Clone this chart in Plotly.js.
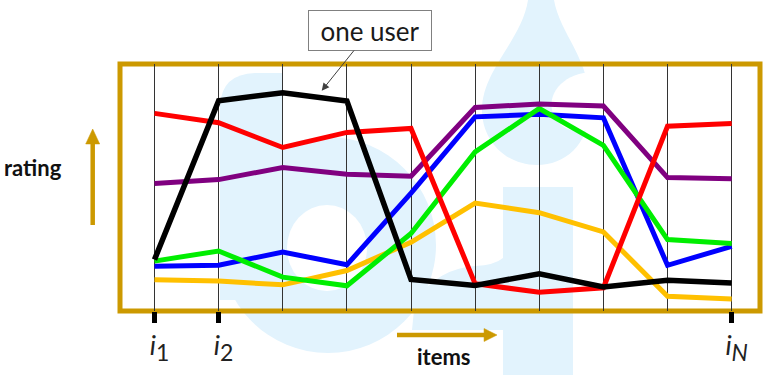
<!DOCTYPE html>
<html><head><meta charset="utf-8">
<script src="https://cdn.plot.ly/plotly-3.0.1.min.js"></script>
<style>html,body{margin:0;padding:0;background:#fff;} #chart{width:778px;height:375px;}</style>
</head><body><div id="chart"></div>
<script>
// ---- data ----
const items = [1, 2, 3, 4, 5, 6, 7, 8, 9, 10];
const ratingsYellow = [1.27, 1.21, 1.06, 1.64, 2.78, 4.37, 3.98, 3.20, 0.60, 0.49];
const ratingsBlue   = [1.81, 1.85, 2.39, 1.87, 4.77, 7.86, 7.97, 7.82, 1.85, 2.62];
const ratingsGreen  = [2.02, 2.43, 1.37, 1.02, 3.14, 6.44, 8.20, 6.71, 2.89, 2.73];
const ratingsPurple = [5.16, 5.32, 5.81, 5.54, 5.46, 8.24, 8.38, 8.30, 5.40, 5.35];
const ratingsRed    = [8.00, 7.62, 6.62, 7.23, 7.39, 1.10, 0.76, 0.94, 7.48, 7.59];
const ratingsBlack  = [2.08, 8.51, 8.84, 8.50, 1.28, 1.03, 1.51, 0.97, 1.24, 1.13];
const labelledItems = [1, 2, 10];
const labelledText  = [
  '<i>i</i><sub><span style="font-size:23px">1</span></sub>',
  '<i>i</i><sub><span style="font-size:23px">2</span></sub>',
  '<i>i</i><sub><span style="font-size:23px"><i>N</i></span></sub>'
];
const calloutText = 'one user';
const ratingLabel = 'rating';
const itemsLabel  = 'items';

// ---- styling ----
const GOLD = '#cc9900';
const xr = [0.462, 10.442];
const series = [
  {y: ratingsYellow, color: '#ffc000', w: 5},
  {y: ratingsBlue,   color: '#0000ff', w: 5},
  {y: ratingsGreen,  color: '#00ee00', w: 5},
  {y: ratingsPurple, color: '#800080', w: 5},
  {y: ratingsRed,    color: '#ff0000', w: 5},
  {y: ratingsBlack,  color: '#000000', w: 5.5}
];
const traces = series.map(s => ({
  x: items, y: s.y, type: 'scatter', mode: 'lines',
  line: {color: s.color, width: s.w}, hoverinfo: 'skip', showlegend: false
}));

const wm = '<svg xmlns="http://www.w3.org/2000/svg" width="778" height="375" viewBox="0 0 778 375" preserveAspectRatio="none">' +
  '<g fill="#e2f3fd">' +
  '<path d="M220,300 L220,105 Q222,74 255,73 L283,73 L283,300 Z"/>' +
  '<circle cx="328" cy="245" r="108"/>' +
  '<path d="M415,300 Q440,268 475,266 Q495,265 503,258 L503,330 L412,330 Z"/>' +
  '<rect x="503" y="187" width="70" height="190"/>' +
  '<path d="M528,0 L554,0 C560,35 592,60 590,110 C588,145 565,165 537,165 C505,165 482,140 482,110 C482,70 522,40 528,0 Z"/>' +
  '</g><g fill="#ffffff">' +
  '<ellipse cx="327" cy="248" rx="40" ry="43"/>' +
  '<path d="M594,72 C565,72 548,92 552,110 C556,128 575,136 594,128 Z"/>' +
  '</g></svg>';

const layout = {
  width: 778, height: 375,
  margin: {l: 120, r: 18, t: 64, b: 64},
  paper_bgcolor: '#ffffff', plot_bgcolor: 'rgba(0,0,0,0)',
  showlegend: false,
  xaxis: {
    range: xr, tickmode: 'array', tickvals: labelledItems, ticktext: labelledText,
    ticks: 'outside', ticklen: 11, tickwidth: 4.5, tickcolor: '#000',
    showgrid: true, gridcolor: '#333', gridwidth: 1,
    minor: {tickmode: 'array', tickvals: items, showgrid: true, gridcolor: '#333', gridwidth: 1, ticks: ''},
    zeroline: false, showline: false, fixedrange: true,
    tickfont: {family: 'Lato', size: 27, color: '#222'},
    ticklabelshift: 5, ticklabelstandoff: 0
  },
  xaxis2: {
    overlaying: 'x', anchor: 'y', side: 'bottom', range: xr,
    tickmode: 'array', tickvals: labelledItems, ticks: 'inside', ticklen: 10, tickwidth: 4.5, tickcolor: '#000',
    showticklabels: false, showgrid: false, zeroline: false, showline: false
  },
  yaxis: {range: [0, 10], visible: false, fixedrange: true},
  shapes: [
    {type: 'rect', xref: 'paper', yref: 'paper', x0: 0, x1: 1, y0: 0, y1: 1,
     line: {color: GOLD, width: 5}, fillcolor: 'rgba(0,0,0,0)', layer: 'between'},
    {type: 'line', xref: 'paper', yref: 'paper', x0: -0.04266, x1: -0.04266, y0: 0.3482, y1: 0.6842,
     line: {color: GOLD, width: 4.5}},
    {type: 'path', xref: 'paper', yref: 'paper', path: 'M -0.0536,0.6761 L -0.0317,0.6761 L -0.04266,0.7368 Z',
     fillcolor: GOLD, line: {color: GOLD, width: 0.5}},
    {type: 'line', xref: 'paper', yref: 'paper', x0: 0.4328, x1: 0.5703, y0: -0.0972, y1: -0.0972,
     line: {color: GOLD, width: 4.5}},
    {type: 'path', xref: 'paper', yref: 'paper', path: 'M 0.5688,-0.0709 L 0.5688,-0.1235 L 0.5891,-0.0972 Z',
     fillcolor: GOLD, line: {color: GOLD, width: 0.5}}
  ],
  images: [{
    source: 'data:image/svg+xml;charset=utf-8,' + encodeURIComponent(wm),
    xref: 'paper', yref: 'paper', x: -120/640, y: 311/247,
    sizex: 778/640, sizey: 375/247, xanchor: 'left', yanchor: 'top',
    sizing: 'stretch', layer: 'below'
  }],
  annotations: [
    {text: calloutText, xref: 'paper', yref: 'paper', x: 0.3152, y: 0.8919,
     ax: 48.3, ay: -60.2, showarrow: true, arrowhead: 2, arrowsize: 1.5, arrowwidth: 1, arrowcolor: '#404040',
     bgcolor: '#ffffff', bordercolor: '#808080', borderwidth: 1, borderpad: 0, width: 122, height: 39,
     font: {family: 'Lato', size: 26, color: '#1a1a1a'}},
    {text: ratingLabel, xref: 'paper', yref: 'paper', x: -0.1359, y: 0.579, showarrow: false,
     xanchor: 'center', yanchor: 'middle', font: {family: 'Lato', size: 22, color: '#111', weight: 'bold'}},
    {text: itemsLabel, xref: 'paper', yref: 'paper', x: 0.5055, y: -0.1862, showarrow: false,
     xanchor: 'center', yanchor: 'middle', font: {family: 'Lato', size: 22, color: '#111', weight: 'bold'}}
  ]
};
Plotly.newPlot('chart', traces, layout, {staticPlot: true, displayModeBar: false});
</script></body></html>
